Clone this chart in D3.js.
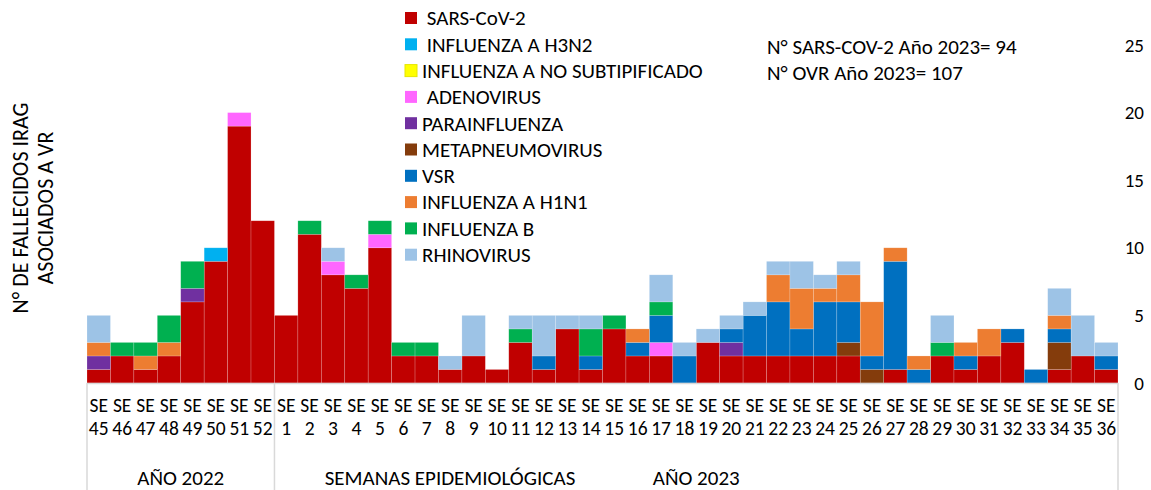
<!DOCTYPE html>
<html><head><meta charset="utf-8">
<script src="https://cdn.jsdelivr.net/npm/d3@7"></script>
<style>
html,body{margin:0;padding:0;background:#fff;}
svg{display:block;}
text{font-family:Carlito, Lato, sans-serif; fill:#000;}
</style></head>
<body><svg id="chart" width="1151" height="490"></svg>
<script>
// ---- data ----
const weeks = ["45","46","47","48","49","50","51","52","1","2","3","4","5","6","7","8","9","10","11","12","13","14","15","16","17","18","19","20","21","22","23","24","25","26","27","28","29","30","31","32","33","34","35","36"];
const seriesNames = ["SARS-CoV-2","INFLUENZA A H3N2","INFLUENZA A NO SUBTIPIFICADO","ADENOVIRUS","PARAINFLUENZA","METAPNEUMOVIRUS","VSR","INFLUENZA A H1N1","INFLUENZA B","RHINOVIRUS"];
const legendLabels = [" SARS-CoV-2"," INFLUENZA A H3N2","INFLUENZA A NO SUBTIPIFICADO"," ADENOVIRUS","PARAINFLUENZA","METAPNEUMOVIRUS","VSR","INFLUENZA A H1N1","INFLUENZA B","RHINOVIRUS"];
const colors = ["#C00000","#00B0F0","#FFFF00","#FF66FF","#7030A0","#843C0C","#0070C0","#ED7D31","#00B050","#9DC3E6"];
//                  45 46 47 48 49 50 51 52  1  2  3  4  5  6  7  8  9 10 11 12 13 14 15 16 17 18 19 20 21 22 23 24 25 26 27 28 29 30 31 32 33 34 35 36
const sars      = [ 1, 2, 1, 2, 6, 9,19,12, 5,11, 8, 7,10, 2, 2, 1, 2, 1, 3, 1, 4, 1, 4, 2, 2, 0, 3, 2, 2, 2, 2, 2, 2, 0, 1, 0, 2, 1, 2, 3, 0, 1, 2, 1];
const h3n2      = [ 0, 0, 0, 0, 0, 1, 0, 0, 0, 0, 0, 0, 0, 0, 0, 0, 0, 0, 0, 0, 0, 0, 0, 0, 0, 0, 0, 0, 0, 0, 0, 0, 0, 0, 0, 0, 0, 0, 0, 0, 0, 0, 0, 0];
const noSubtip  = [ 0, 0, 0, 0, 0, 0, 0, 0, 0, 0, 0, 0, 0, 0, 0, 0, 0, 0, 0, 0, 0, 0, 0, 0, 0, 0, 0, 0, 0, 0, 0, 0, 0, 0, 0, 0, 0, 0, 0, 0, 0, 0, 0, 0];
const adeno     = [ 0, 0, 0, 0, 0, 0, 1, 0, 0, 0, 1, 0, 1, 0, 0, 0, 0, 0, 0, 0, 0, 0, 0, 0, 1, 0, 0, 0, 0, 0, 0, 0, 0, 0, 0, 0, 0, 0, 0, 0, 0, 0, 0, 0];
const parainf   = [ 1, 0, 0, 0, 1, 0, 0, 0, 0, 0, 0, 0, 0, 0, 0, 0, 0, 0, 0, 0, 0, 0, 0, 0, 0, 0, 0, 1, 0, 0, 0, 0, 0, 0, 0, 0, 0, 0, 0, 0, 0, 0, 0, 0];
const metapneumo= [ 0, 0, 0, 0, 0, 0, 0, 0, 0, 0, 0, 0, 0, 0, 0, 0, 0, 0, 0, 0, 0, 0, 0, 0, 0, 0, 0, 0, 0, 0, 0, 0, 1, 1, 0, 0, 0, 0, 0, 0, 0, 2, 0, 0];
const vsr       = [ 0, 0, 0, 0, 0, 0, 0, 0, 0, 0, 0, 0, 0, 0, 0, 0, 0, 0, 0, 1, 0, 1, 0, 1, 2, 2, 0, 1, 3, 4, 2, 4, 3, 1, 8, 1, 0, 1, 0, 1, 1, 1, 0, 1];
const h1n1      = [ 1, 0, 1, 1, 0, 0, 0, 0, 0, 0, 0, 0, 0, 0, 0, 0, 0, 0, 0, 0, 0, 0, 0, 1, 0, 0, 0, 0, 0, 2, 3, 1, 2, 4, 1, 1, 0, 1, 2, 0, 0, 1, 0, 0];
const infB      = [ 0, 1, 1, 2, 2, 0, 0, 0, 0, 1, 0, 1, 1, 1, 1, 0, 0, 0, 1, 0, 0, 2, 1, 0, 1, 0, 0, 0, 0, 0, 0, 0, 0, 0, 0, 0, 1, 0, 0, 0, 0, 0, 0, 0];
const rhino     = [ 2, 0, 0, 0, 0, 0, 0, 0, 0, 0, 1, 0, 0, 0, 0, 1, 3, 0, 1, 3, 1, 1, 0, 0, 2, 1, 1, 1, 1, 1, 2, 1, 1, 0, 0, 0, 2, 0, 0, 0, 0, 2, 3, 1];
const yTicks = [0,5,10,15,20,25];
const groups = [{label:"AÑO 2022", from:"45", to:"52"},{label:"AÑO 2023", from:"1", to:"36"}];
const notes = ["N° SARS-COV-2 Año 2023= 94","N° OVR Año 2023= 107"];
const yTitle = ["N° DE FALLECIDOS IRAG","ASOCIADOS A VR"];
const xTitle = "SEMANAS EPIDEMIOLÓGICAS";

const seriesValues = [sars,h3n2,noSubtip,adeno,parainf,metapneumo,vsr,h1n1,infB,rhino];
const table = weeks.map((w,i)=>{const o={week:w}; seriesNames.forEach((s,k)=>o[s]=seriesValues[k][i]); return o;});

// ---- layout ----
const FS_TICK = 19.5, FS_Y = 19, FS = 21, FS_TITLE = 22;
const svg = d3.select("#chart");
const x = d3.scaleBand().domain(weeks).range([87,1118]).padding(0);
const y = d3.scaleLinear().domain([0,25]).range([383,45]);
const color = d3.scaleOrdinal().domain(seriesNames).range(colors);

const stacked = d3.stack().keys(seriesNames)(table);
svg.append("g").selectAll("g").data(stacked).join("g")
  .attr("fill", d=>color(d.key))
  .selectAll("rect").data(d=>d).join("rect")
  .attr("x", d=>x(d.data.week))
  .attr("width", x.bandwidth())
  .attr("y", d=>y(d[1]))
  .attr("height", d=>Math.max(0,y(d[0])-y(d[1])))
  .attr("stroke","rgba(255,255,255,0.3)").attr("stroke-width",0.6);

// x axis line and separators
const axisCol = "#d9d9d9";
svg.append("line").attr("x1",87).attr("x2",1118).attr("y1",383.5).attr("y2",383.5).attr("stroke",axisCol).attr("stroke-width",1.5);
const seps = [x("45"), x("1"), x("36")+x.bandwidth()];
svg.selectAll(".sep").data(seps).join("line").attr("class","sep")
  .attr("x1",d=>d).attr("x2",d=>d).attr("y1",383).attr("y2",490)
  .attr("stroke",axisCol).attr("stroke-width",1.5);

// tick labels
const tl = svg.append("g").selectAll("g").data(weeks).join("g")
  .attr("transform", d=>`translate(${x(d)+x.bandwidth()/2},0)`);
tl.append("text").attr("y",405).attr("dy","0.35em").attr("text-anchor","middle").attr("font-size",FS_TICK).text("SE");
tl.append("text").attr("y",428).attr("dy","0.35em").attr("text-anchor","middle").attr("font-size",FS_TICK).text(d=>d);

// group labels
svg.selectAll(".grp").data(groups).join("text").attr("class","grp")
  .attr("x", g=>(x(g.from)+x(g.to)+x.bandwidth())/2).attr("y",478).attr("dy","0.35em")
  .attr("text-anchor","middle").attr("font-size",FS).text(g=>g.label);
svg.append("text").attr("x",450).attr("y",478).attr("dy","0.35em").attr("text-anchor","middle").attr("font-size",FS).text(xTitle);

// right y axis labels
svg.selectAll(".yt").data(yTicks).join("text").attr("class","yt")
  .attr("x",1144).attr("y",d=>y(d)).attr("dy","0.35em").attr("text-anchor","end").attr("font-size",FS_Y).text(d=>d);

// y title
svg.selectAll(".ytitle").data(yTitle).join("text").attr("class","ytitle")
  .attr("transform",(d,i)=>`translate(${i===0?20:45},208) rotate(-90)`)
  .attr("dy","0.35em").attr("text-anchor","middle").attr("font-size",FS_TITLE).text(d=>d);

// legend
const lg = svg.append("g").selectAll("g").data(seriesNames).join("g")
  .attr("transform",(d,i)=>`translate(405,${18+i*26.3})`);
lg.append("rect").attr("x",0).attr("y",-6).attr("width",12).attr("height",12)
  .attr("fill",d=>color(d)).attr("stroke",d=>d==="INFLUENZA A NO SUBTIPIFICADO"?"#e6e600":"none").attr("stroke-width",1);
lg.append("text").attr("x",17).attr("dy","0.35em").attr("font-size",FS)
  .style("white-space","pre").text((d,i)=>legendLabels[i]);

// notes
svg.selectAll(".note").data(notes).join("text").attr("class","note")
  .attr("x",767).attr("y",(d,i)=>47+i*26).attr("dy","0.35em").attr("font-size",FS).text(d=>d);
</script></body></html>
